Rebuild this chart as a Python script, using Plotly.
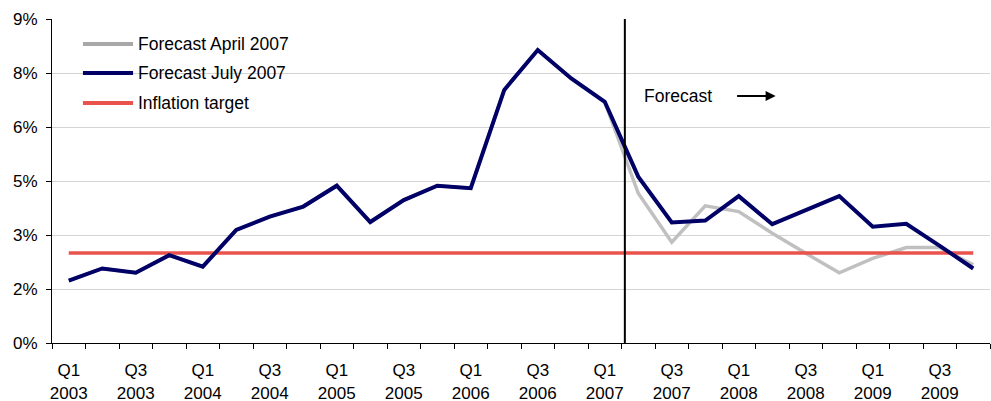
import plotly.graph_objects as go

quarters = ["Q1", "Q2", "Q3", "Q4"]
years = [2003, 2004, 2005, 2006, 2007, 2008, 2009]
categories = [f"{q} {y}" for y in years for q in quarters]

forecast_july_2007 = [1.73, 2.07, 1.95, 2.44, 2.12, 3.14, 3.51, 3.79,
                      4.37, 3.36, 3.97, 4.37, 4.30, 7.03, 8.14, 7.35,
                      6.70, 4.62, 3.35, 3.40, 4.08, 3.30, 3.69, 4.08,
                      3.23, 3.31, 2.70, 2.07]
forecast_april_2007 = [1.73, 2.07, 1.95, 2.44, 2.12, 3.14, 3.51, 3.79,
                       4.37, 3.36, 3.97, 4.37, 4.30, 7.03, 8.14, 7.35,
                       6.70, 4.16, 2.80, 3.81, 3.65, 3.05, 2.49, 1.95,
                       2.35, 2.65, 2.65, 2.17]
inflation_target = [2.5] * len(categories)

series_names = ["Forecast April 2007", "Forecast July 2007", "Inflation target"]

y_tickvals = [0, 1.5, 3, 4.5, 6, 7.5, 9]
y_ticktext = ["0%", "2%", "3%", "5%", "6%", "8%", "9%"]

x_idx = list(range(len(categories)))
x_tickvals = x_idx[::2]
x_ticktext = [c.replace(" ", "<br>") for c in categories][::2]
forecast_start = 16.6

FONT = "Liberation Sans, Arial, sans-serif"
GRAY, NAVY, RED = "#c0c0c0", "#000066", "#ea524c"
LEGEND_COLORS = ["#a8a8a8", NAVY, RED]

fig = go.Figure()
fig.add_trace(go.Scatter(x=x_idx, y=forecast_april_2007, mode="lines",
                         name=series_names[0], line=dict(color=GRAY, width=3.5),
                         hovertext=categories))
fig.add_trace(go.Scatter(x=x_idx, y=inflation_target, mode="lines",
                         name=series_names[2], line=dict(color=RED, width=3.5),
                         hovertext=categories))
fig.add_trace(go.Scatter(x=x_idx, y=forecast_july_2007, mode="lines",
                         name=series_names[1], line=dict(color=NAVY, width=4),
                         hovertext=categories))

fig.add_shape(type="line", xref="x", yref="y", x0=forecast_start, x1=forecast_start,
              y0=0, y1=9, line=dict(color="black", width=2))

# legend drawn in paper coordinates
leg_y = [0.9228, 0.8333, 0.7407]
for name, col, yy in zip(series_names, LEGEND_COLORS, leg_y):
    fig.add_shape(type="line", xref="paper", yref="paper", x0=0.033, x1=0.0864,
                  y0=yy, y1=yy, line=dict(color=col, width=4))
    fig.add_annotation(x=0.0895, y=yy, xref="paper", yref="paper", text=name,
                       showarrow=False, xanchor="left", yanchor="middle",
                       font=dict(family=FONT, size=17.5, color="black"))

fig.add_annotation(x=17.1, y=6.86, xref="x", yref="y", text="Forecast",
                   showarrow=False, xanchor="left", yanchor="middle",
                   font=dict(family=FONT, size=17.5, color="black"))
fig.add_annotation(x=21.1, y=6.86, xref="x", yref="y", text="",
                   showarrow=True, ax=-40, ay=0, axref="pixel", ayref="pixel",
                   arrowhead=2, arrowsize=1, arrowwidth=2, arrowcolor="black")

fig.update_layout(
    width=991, height=401,
    margin=dict(l=52, r=1, t=19, b=58),
    paper_bgcolor="white", plot_bgcolor="white",
    font=dict(family=FONT, size=17, color="black"),
    showlegend=False,
    xaxis=dict(range=[-0.5, 27.5], tickmode="array", tickvals=x_tickvals,
               ticktext=x_ticktext, ticks="", showgrid=False, zeroline=False,
               showline=True, linecolor="black", linewidth=1,
               ticklabelstandoff=12, automargin=False,
               tickfont=dict(family=FONT, size=17, color="black"),
               minor=dict(tickvals=[i - 0.5 for i in range(len(categories) + 1)],
                          ticks="outside", ticklen=5, tickcolor="black", showgrid=False)),
    yaxis=dict(range=[0, 9], tickmode="array", tickvals=y_tickvals, ticktext=y_ticktext,
               ticks="outside", ticklen=5, tickcolor="black",
               showgrid=True, gridcolor="#d4d4d4", gridwidth=1, zeroline=False,
               showline=True, linecolor="black", linewidth=1,
               ticklabelstandoff=5, automargin=False,
               tickfont=dict(family=FONT, size=17, color="black")),
)

fig.write_html("out.html")
